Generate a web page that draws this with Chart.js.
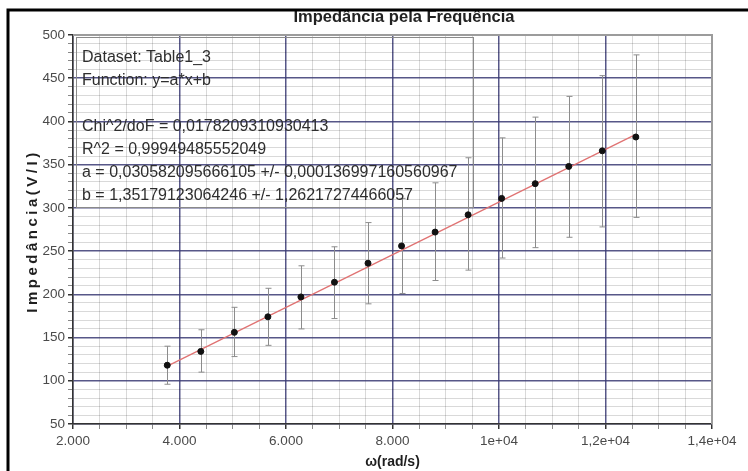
<!DOCTYPE html>
<html>
<head>
<meta charset="utf-8">
<title>Impedância pela Frequência</title>
<script src="https://cdn.jsdelivr.net/npm/chart.js@4.4.1/dist/chart.umd.min.js"></script>
<style>
  html, body { margin: 0; padding: 0; background: #fff; }
  canvas { display: block; }
</style>
</head>
<body>
<canvas id="chart" width="748" height="471"></canvas>
<script>
"use strict";

// measured points (omega in rad/s, impedance in V/I)
const omega = [3770, 4400, 5030, 5660, 6280, 6910, 7540, 8170, 8800, 9420, 10050, 10680, 11310, 11940, 12570];
const impedance = [118, 134, 156, 174, 197, 214, 236, 256, 272, 292, 311, 328, 348, 366, 382];
const errUp = [140, 159, 185, 207, 233, 255, 283, 311, 329, 358, 381, 405, 429, 453, 477];
const errDown = [96, 110, 128, 141, 160, 172, 189, 201, 216, 228, 242, 254, 266, 278, 289];

// fitted line end points
const fitX = [3770, 12570];
const fitY = [117, 385];

const xTickValues = [2000, 4000, 6000, 8000, 10000, 12000, 14000];
const xTickLabels = ["2.000", "4.000", "6.000", "8.000", "1e+04", "1,2e+04", "1,4e+04"];
const yTickValues = [50, 100, 150, 200, 250, 300, 350, 400, 450, 500];

const fitLines = [
  "Dataset: Table1_3",
  "Function: y=a*x+b",
  "",
  "Chi^2/doF = 0,0178209310930413",
  "R^2 = 0,99949485552049",
  "a = 0,030582095666105 +/- 0,000136997160560967",
  "b = 1,35179123064246 +/- 1,26217274466057",
];

const FONT = "'Liberation Sans', Arial, sans-serif";
const MAJOR = "rgba(58, 58, 115, 0.85)";
const MINOR = "rgba(0, 0, 0, 0.15)";
const FRAME = "#9c9c9c";

// error bars, under the points
const errorBars = {
  id: "errorBars",
  beforeDatasetsDraw(chart) {
    const { ctx, scales: { x, y } } = chart;
    ctx.save();
    ctx.strokeStyle = "#8c8c8c";
    ctx.lineWidth = 1;
    omega.forEach((w, i) => {
      const px = Math.round(x.getPixelForValue(w)) + 0.5;
      const top = y.getPixelForValue(errUp[i]);
      const bottom = y.getPixelForValue(errDown[i]);
      ctx.beginPath();
      ctx.moveTo(px, top);
      ctx.lineTo(px, bottom);
      ctx.moveTo(px - 3, top);
      ctx.lineTo(px + 3, top);
      ctx.moveTo(px - 3, bottom);
      ctx.lineTo(px + 3, bottom);
      ctx.stroke();
    });
    ctx.restore();
  },
};

// frame, fit results, y title, main title, window border
const decorations = {
  id: "decorations",
  afterDraw(chart) {
    const { ctx, chartArea: area } = chart;
    ctx.save();

    ctx.strokeStyle = FRAME;
    ctx.lineWidth = 2;
    ctx.beginPath();
    ctx.moveTo(area.left, area.top);
    ctx.lineTo(area.right, area.top);
    ctx.lineTo(area.right, area.bottom);
    ctx.stroke();

    ctx.strokeStyle = "#8a8a8a";
    ctx.lineWidth = 1;
    ctx.strokeRect(area.left + 3.5, area.top + 2.5, 397, 170);
    ctx.fillStyle = "#2e2e2e";
    ctx.font = "16px " + FONT;
    ctx.textBaseline = "middle";
    fitLines.forEach((line, i) => ctx.fillText(line, area.left + 9, area.top + 22.5 + i * 23));

    ctx.save();
    ctx.translate(33, 231);
    ctx.rotate(-Math.PI / 2);
    ctx.font = "bold 15px " + FONT;
    ctx.letterSpacing = "3.5px";
    ctx.textAlign = "center";
    ctx.fillStyle = "#1e1e1e";
    ctx.fillText("Impedância(V/I)", 0, 0);
    ctx.restore();

    // title is cut by the border at the top
    ctx.save();
    ctx.beginPath();
    ctx.rect(0, 11, chart.width, 30);
    ctx.clip();
    ctx.font = "bold 16.5px " + FONT;
    ctx.fillStyle = "#222";
    ctx.textAlign = "center";
    ctx.textBaseline = "alphabetic";
    ctx.fillText("Impedância pela Frequência", 404, 21.5);
    ctx.restore();

    ctx.strokeStyle = "#000";
    ctx.lineWidth = 3;
    ctx.beginPath();
    ctx.moveTo(8, chart.height);
    ctx.lineTo(8, 10);
    ctx.lineTo(chart.width, 10);
    ctx.stroke();

    ctx.restore();
  },
};

const gridColor = (step, max) => (c) => {
  const v = c.tick.value;
  if (v === max) return "rgba(0,0,0,0)";
  return v % step === 0 ? MAJOR : MINOR;
};
const gridWidth = (step) => (c) => (c.tick.value % step === 0 ? 1.5 : 1);
const tickColor = (step) => (c) => (c.tick.value % step === 0 ? "#333" : "#888");

new Chart(document.getElementById("chart"), {
  type: "scatter",
  data: {
    datasets: [
      {
        label: "Table1_3",
        data: omega.map((w, i) => ({ x: w, y: impedance[i] })),
        backgroundColor: "#111",
        borderColor: "#111",
        pointRadius: 3,
        order: 0,
      },
      {
        label: "fit",
        type: "line",
        data: fitX.map((w, i) => ({ x: w, y: fitY[i] })),
        borderColor: "#e07272",
        borderWidth: 1.3,
        pointRadius: 0,
        order: 1,
      },
    ],
  },
  options: {
    responsive: false,
    animation: false,
    layout: { padding: { top: 35, right: 36, left: 0, bottom: 0 } },
    plugins: {
      legend: { display: false },
      tooltip: { enabled: false },
    },
    scales: {
      x: {
        type: "linear",
        min: 2000,
        max: 14000,
        afterFit: (s) => { s.height = 47; },
        ticks: {
          stepSize: 500,
          autoSkip: false,
          maxRotation: 0,
          padding: 4,
          color: "#4a4a4a",
          font: { family: FONT, size: 13.5 },
          callback: (v) => {
            const k = xTickValues.indexOf(v);
            return k < 0 ? "" : xTickLabels[k];
          },
        },
        grid: {
          color: gridColor(2000, 14000),
          lineWidth: gridWidth(2000),
          tickLength: 5,
          tickColor: tickColor(2000),
        },
        border: { color: "#333", width: 1.5 },
        title: {
          display: true,
          text: "ω(rad/s)",
          color: "#1e1e1e",
          font: { family: FONT, size: 14, weight: "bold" },
          padding: { top: 0, bottom: 0 },
        },
      },
      y: {
        type: "linear",
        min: 50,
        max: 500,
        afterFit: (s) => { s.width = 73; },
        ticks: {
          stepSize: 10,
          autoSkip: false,
          padding: 3,
          color: "#4a4a4a",
          font: { family: FONT, size: 13.5 },
          callback: (v) => (yTickValues.includes(v) ? String(v) : ""),
        },
        grid: {
          color: gridColor(50, 500),
          lineWidth: gridWidth(50),
          tickLength: 5,
          tickColor: tickColor(50),
        },
        border: { color: "#333", width: 1.5 },
      },
    },
  },
  plugins: [errorBars, decorations],
});
</script>
</body>
</html>
